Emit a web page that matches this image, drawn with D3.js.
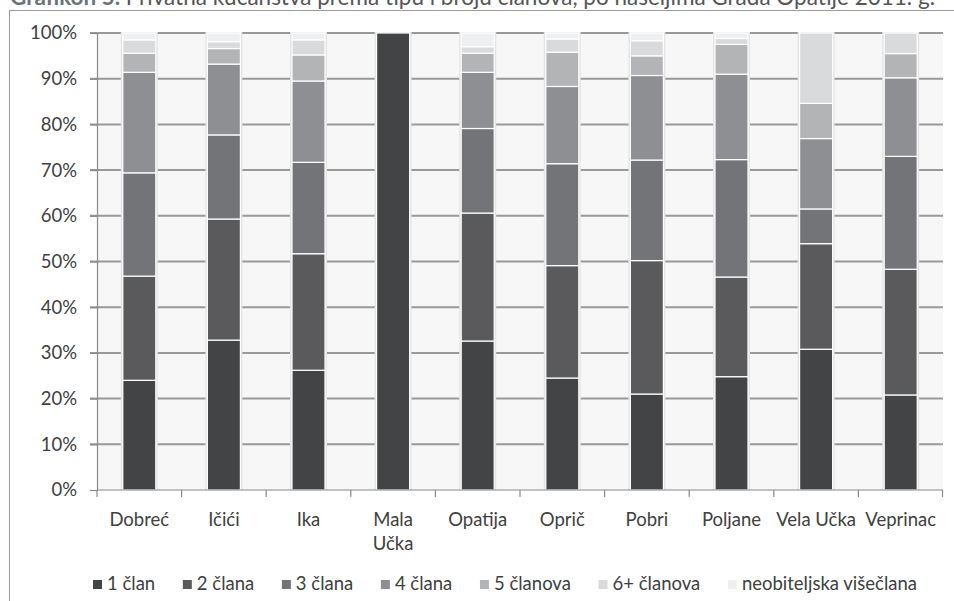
<!DOCTYPE html>
<html>
<head>
<meta charset="utf-8">
<script src="https://cdn.jsdelivr.net/npm/d3@7"></script>
<style>
    html, body { margin: 0; padding: 0; background: #fff; }
    svg { display: block; font-family: Lato, "Open Sans", sans-serif; }
</style>
</head>
<body>
<div id="chart"></div>
<script>
// naselja
const categories = ["Dobreć", "Ičići", "Ika", "Mala Učka", "Opatija", "Oprič", "Pobri", "Poljane", "Vela Učka", "Veprinac"];
const seriesNames = ["1 član", "2 člana", "3 člana", "4 člana", "5 članova", "6+ članova", "neobiteljska višečlana"];

// udjeli u % (procjena s grafikona)
const clan1 = [24.0, 32.8, 26.2, 100, 32.6, 24.5, 21.0, 24.8, 30.8, 20.8];
const clana2 = [22.8, 26.5, 25.5, 0, 28.0, 24.6, 29.2, 21.8, 23.1, 27.5];
const clana3 = [22.6, 18.4, 20.0, 0, 18.5, 22.3, 22.0, 25.7, 7.6, 24.7];
const clana4 = [22.0, 15.5, 17.8, 0, 12.3, 16.9, 18.5, 18.7, 15.4, 17.2];
const clanova5 = [4.2, 3.4, 5.7, 0, 4.2, 7.5, 4.3, 6.5, 7.7, 5.3];
const clanova6 = [2.9, 1.5, 3.3, 0, 1.4, 2.9, 3.3, 1.3, 15.4, 4.5];
const neobiteljska = [1.5, 1.9, 1.5, 0, 3.0, 1.3, 1.7, 1.2, 0, 0];

const yTicks = [0, 10, 20, 30, 40, 50, 60, 70, 80, 90, 100];
const colors = ["#434446", "#5a5a5c", "#737477", "#8e8f92", "#b3b4b6", "#d9dadc", "#eeeff0"];

const width = 954, height = 601;
const margin = {top: 33, right: 11, bottom: 111, left: 97};
const fontSize = 18.5;

const rows = categories.map((c, i) => {
    const r = {name: c};
    [clan1, clana2, clana3, clana4, clanova5, clanova6, neobiteljska].forEach((s, k) => {
        r[seriesNames[k]] = s[i];
    });
    return r;
});

const stacked = d3.stack().keys(seriesNames)(rows);

const svg = d3.select("#chart")
    .append("svg")
    .attr("width", width)
    .attr("height", height);

// naslov (odrezan na vrhu)
const title = svg.append("text")
    .attr("x", 10)
    .attr("y", 5)
    .attr("font-size", 22.5)
    .attr("fill", "#555");
title.append("tspan").attr("font-weight", "bold").attr("fill", "#6b7378").text("Grafikon 5.");
title.append("tspan").text(" Privatna kućanstva prema tipu i broju članova, po naseljima Grada Opatije 2011. g.");

// okvir
svg.append("rect")
    .attr("x", 9.5)
    .attr("y", 10.5)
    .attr("width", width + 10)
    .attr("height", height)
    .attr("fill", "none")
    .attr("stroke", "#9a9a9a");

const x = d3.scaleBand()
    .domain(categories)
    .range([margin.left, width - margin.right])
    .paddingInner(0.61)
    .paddingOuter(0.305);

const y = d3.scaleLinear()
    .domain([0, 100])
    .range([height - margin.bottom, margin.top]);

// pozadina
svg.append("rect")
    .attr("x", margin.left)
    .attr("y", margin.top)
    .attr("width", width - margin.right - margin.left)
    .attr("height", y(0) - y(100))
    .attr("fill", "#f7f7f7");

// mreža
svg.append("g")
    .selectAll("line")
    .data(yTicks.filter(d => d > 0))
    .enter().append("line")
    .attr("x1", margin.left - 7)
    .attr("x2", width - margin.right)
    .attr("y1", d => y(d))
    .attr("y2", d => y(d))
    .attr("stroke", "#999")
    .attr("stroke-width", 2);

// sjena stupaca
svg.append("g")
    .selectAll("rect")
    .data(categories)
    .enter().append("rect")
    .attr("x", d => x(d) - 2)
    .attr("y", y(100) - 1)
    .attr("width", x.bandwidth() + 4)
    .attr("height", y(0) - y(100) + 1)
    .attr("fill", "#e4e4e4");

// stupci
svg.append("g")
    .selectAll("g")
    .data(stacked)
    .enter().append("g")
    .attr("fill", (d, i) => colors[i])
    .selectAll("rect")
    .data(d => d.filter(p => p[1] - p[0] > 0))
    .enter().append("rect")
    .attr("x", d => x(d.data.name))
    .attr("y", d => y(d[1]))
    .attr("width", x.bandwidth())
    .attr("height", d => y(d[0]) - y(d[1]))
    .attr("stroke", "#fff")
    .attr("stroke-width", 1.2);

// y os
const yAxis = svg.append("g")
    .attr("transform", "translate(" + margin.left + ",0)")
    .call(d3.axisLeft(y).tickValues(yTicks).tickFormat(d => d + "%").tickSize(7).tickPadding(13));
yAxis.select(".domain").attr("stroke", "#8a8a8a").attr("stroke-width", 1.2);
yAxis.selectAll(".tick line").attr("stroke", "#8a8a8a").attr("stroke-width", 1.2);
yAxis.selectAll("text")
    .attr("font-size", fontSize)
    .attr("fill", "#404040")
    .attr("font-family", "Lato, sans-serif");

// x os
const step = x.step();
const xAxisG = svg.append("g");
xAxisG.append("line")
    .attr("x1", margin.left)
    .attr("x2", width - margin.right)
    .attr("y1", y(0))
    .attr("y2", y(0))
    .attr("stroke", "#8a8a8a")
    .attr("stroke-width", 1.2);
xAxisG.selectAll(".xt")
    .data(d3.range(categories.length + 1))
    .enter().append("line")
    .attr("class", "xt")
    .attr("x1", i => margin.left + i * step - (i === categories.length ? 0.5 : 0))
    .attr("x2", i => margin.left + i * step - (i === categories.length ? 0.5 : 0))
    .attr("y1", y(0))
    .attr("y2", y(0) + 7)
    .attr("stroke", "#8a8a8a")
    .attr("stroke-width", 1.2);

const xLabels = xAxisG.selectAll(".xl")
    .data(categories)
    .enter().append("text")
    .attr("class", "xl")
    .attr("text-anchor", "middle")
    .attr("font-size", fontSize)
    .attr("fill", "#404040")
    .attr("y", y(0) + 36);
xLabels.each(function(d) {
    const t = d3.select(this);
    const cx = x(d) + x.bandwidth() / 2;
    // Mala Učka se lomi u dva retka
    const parts = d === "Mala Učka" ? ["Mala", "Učka"] : [d];
    parts.forEach((p, k) => {
        t.append("tspan").attr("x", cx).attr("dy", k === 0 ? 0 : 24).text(p);
    });
});

// legenda
const legend = svg.append("g")
    .attr("transform", "translate(93,590)");
const items = seriesNames.map((name, i) => {
    const item = legend.append("g");
    item.append("rect")
        .attr("x", 0)
        .attr("y", -10)
        .attr("width", 9)
        .attr("height", 9)
        .attr("fill", colors[i]);
    const txt = item.append("text")
        .attr("x", 14)
        .attr("y", 0)
        .attr("font-size", fontSize)
        .attr("fill", "#404040")
        .text(name);
    return {item: item, w: 14 + txt.node().getComputedTextLength()};
});
const legendEnd = 917 - 93;
const gap = (legendEnd - d3.sum(items, d => d.w)) / (items.length - 1);
let lx = 0;
items.forEach(d => {
    d.item.attr("transform", "translate(" + lx + ",0)");
    lx += d.w + gap;
});
</script>
</body>
</html>
